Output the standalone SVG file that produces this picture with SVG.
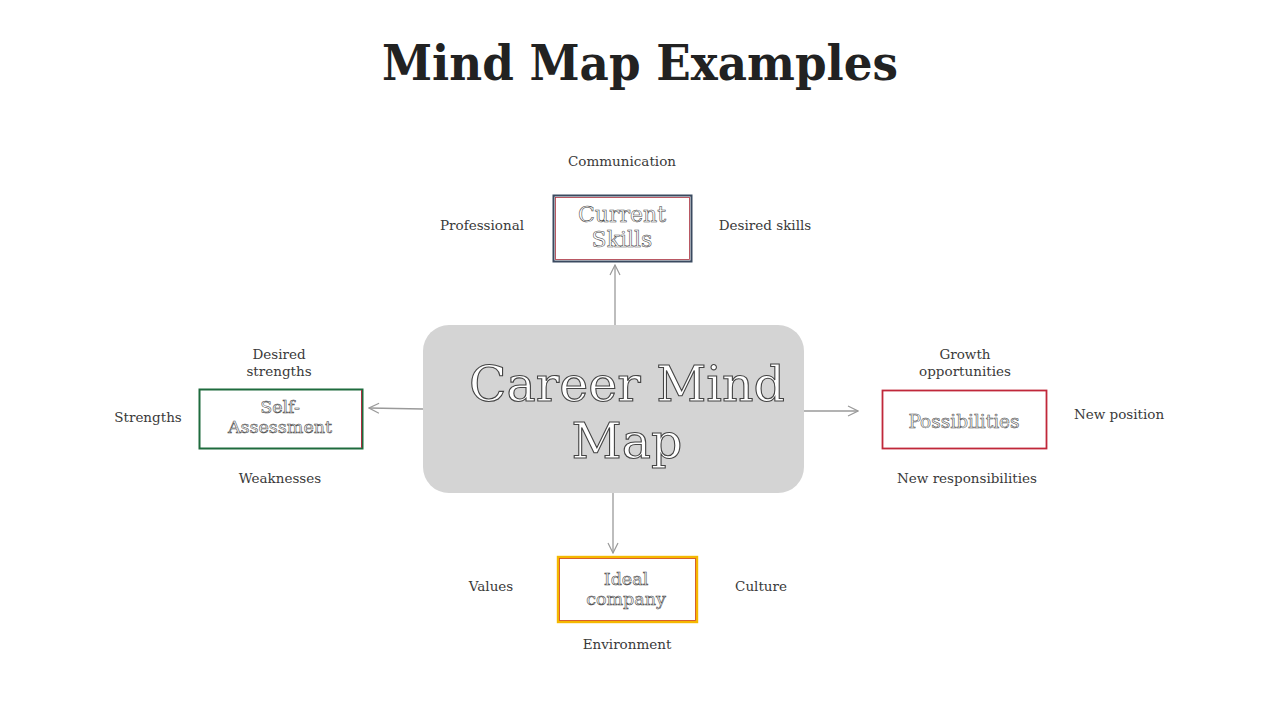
<svg xmlns="http://www.w3.org/2000/svg" width="1280" height="720" viewBox="0 0 1280 720">
<defs>
<style>
.title{font-family:"DejaVu Serif","Liberation Serif",serif;font-weight:bold;font-size:48px;fill:#222;}
.lbl{font-family:"DejaVu Serif","Liberation Serif",serif;font-size:13.5px;fill:#3a3a3a;text-anchor:middle;}
.box{fill:#fff;}
.bt{font-family:"DejaVu Serif","Liberation Serif",serif;fill:#fff;stroke:#444;stroke-width:0.55;text-anchor:middle;}
.ct{font-family:"DejaVu Serif","Liberation Serif",serif;font-size:49px;fill:#fff;stroke:#444;stroke-width:1.1;text-anchor:middle;}
.conn{stroke:#9a9a9a;stroke-width:1.3;fill:none;marker-end:url(#arr);}
</style>
<marker id="arr" viewBox="0 0 12 12" refX="11" refY="6" markerWidth="12" markerHeight="12" markerUnits="userSpaceOnUse" orient="auto">
<path d="M1,1 L11,6 L1,11" fill="none" stroke="#9a9a9a" stroke-width="1.2"/>
</marker>
</defs>
<rect width="1280" height="720" fill="#fff"/>
<text class="title" x="640" y="80" text-anchor="middle" textLength="516" lengthAdjust="spacingAndGlyphs">Mind Map Examples</text>

<g id="connectors">
<line class="conn" x1="615" y1="325" x2="615" y2="265"/>
<line class="conn" x1="423" y1="409" x2="369" y2="408"/>
<line class="conn" x1="804" y1="411" x2="858" y2="411"/>
<line class="conn" x1="613" y1="493" x2="613" y2="553"/>
</g>

<g id="center">
<rect x="423" y="325" width="381" height="168" rx="26" fill="#d4d4d4"/>
<text class="ct" x="627" y="401">Career Mind</text>
<text class="ct" x="627" y="458">Map</text>
</g>

<g id="current-skills">
<rect class="box" x="553.5" y="195.5" width="138" height="66" stroke="#3a4a60" stroke-width="2"/>
<rect x="555.5" y="197.5" width="134" height="62" fill="none" stroke="#a8303e" stroke-width="0.8"/>
<text class="bt" x="622" y="222" font-size="22">Current</text>
<text class="bt" x="622" y="247" font-size="22">Skills</text>
<text class="lbl" x="622" y="166">Communication</text>
<text class="lbl" x="482" y="230">Professional</text>
<text class="lbl" x="765" y="230">Desired skills</text>
</g>

<g id="self-assessment">
<rect class="box" x="199.5" y="389.5" width="163" height="59" stroke="#1e6b3d" stroke-width="2"/>
<line x1="361.5" y1="390" x2="361.5" y2="448" stroke="#a8303e" stroke-width="1"/>
<text class="bt" x="280" y="413" font-size="17.5">Self-</text>
<text class="bt" x="280" y="433" font-size="17.5">Assessment</text>
<text class="lbl" x="279" y="359">Desired</text>
<text class="lbl" x="279" y="376">strengths</text>
<text class="lbl" x="148" y="422">Strengths</text>
<text class="lbl" x="280" y="483">Weaknesses</text>
</g>

<g id="possibilities">
<rect class="box" x="882.5" y="390.5" width="164" height="58" stroke="#c0283a" stroke-width="1.8"/>
<text class="bt" x="964" y="428" font-size="18.5">Possibilities</text>
<text class="lbl" x="965" y="359">Growth</text>
<text class="lbl" x="965" y="376">opportunities</text>
<text class="lbl" x="1119" y="419">New position</text>
<text class="lbl" x="967" y="483">New responsibilities</text>
</g>

<g id="ideal-company">
<rect class="box" x="558" y="557" width="139" height="65" stroke="#f5b800" stroke-width="2.4"/>
<rect x="559.5" y="558.5" width="136" height="62" fill="none" stroke="#d4501e" stroke-width="0.9"/>
<text class="bt" x="626" y="585" font-size="17.5">Ideal</text>
<text class="bt" x="626" y="605" font-size="17.5">company</text>
<text class="lbl" x="491" y="591">Values</text>
<text class="lbl" x="761" y="591">Culture</text>
<text class="lbl" x="627" y="649">Environment</text>
</g>
</svg>
